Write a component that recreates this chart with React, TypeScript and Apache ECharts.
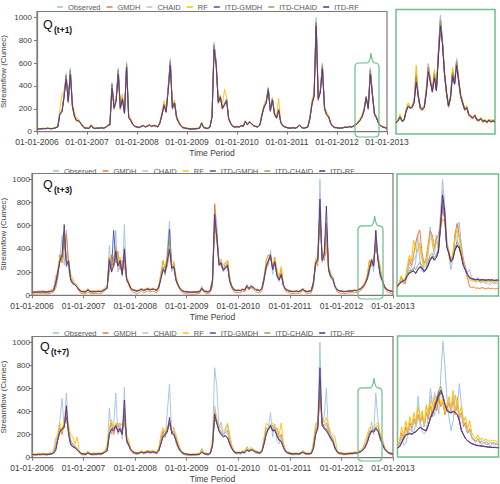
import React, { useEffect, useRef } from 'react';
import * as echarts from 'echarts';

// ---------- labels ----------
const SERIES_NAMES = ['Observed', 'GMDH', 'CHAID', 'RF', 'ITD-GMDH', 'ITD-CHAID', 'ITD-RF'];
const COLORS = ['#9fc2e4', '#ed7d31', '#b7c3d3', '#ffc000', '#4b4fa6', '#a49e55', '#5a2b86'];
const YEAR_TICKS = [2006, 2007, 2008, 2009, 2010, 2011, 2012, 2013];
const Y_TICKS = [0, 200, 400, 600, 800, 1000];
const HORIZONS = ['(t+1)', '(t+3)', '(t+7)'];

// ---------- main series: one row per year, 24 half-month values ----------
const OBS = [
  [22,25,24,28,26,30, 27,25,30,35,45,170, 180,330,515,260,560,220, 130,95,100,70,45,30],
  [30,28,60,30,28,32, 30,35,30,40,55,60, 430,200,280,560,200,300, 160,610,120,100,60,45],
  [40,35,45,55,40,50, 60,45,55,50,40,80, 150,240,170,400,640,200, 260,120,80,50,35,30],
  [28,25,22,25,24,28, 30,80,35,30,28,40, 130,780,620,250,310,200, 240,290,110,70,45,40],
  [45,40,55,45,95,60, 90,70,50,45,40,60, 150,220,260,390,180,290, 150,120,200,80,50,40],
  [35,30,32,35,30,40, 60,35,30,35,40,120, 250,320,1000,280,360,600, 200,150,130,70,45,35],
  [35,30,32,35,40,38, 45,40,50,60,80,100, 130,190,310,200,560,330, 150,120,70,50,40,35],
  [30],
];

// Q(t+1)
const P1_GMDH = [
  [20,23,22,26,24,28, 25,23,28,33,43,160, 175,310,480,250,520,215, 125,90,95,68,43,28],
  [28,26,57,28,26,30, 28,33,28,38,52,58, 400,195,265,520,195,290, 155,570,118,95,58,43],
  [38,33,43,52,38,48, 57,43,52,48,38,76, 145,230,165,375,600,195, 250,118,78,48,33,28],
  [26,23,20,23,22,26, 28,76,33,28,26,38, 125,740,590,245,300,195, 230,275,105,68,43,38],
  [43,38,52,43,90,57, 86,67,48,43,38,57, 145,210,250,370,175,280, 145,115,190,76,48,38],
  [33,28,30,33,28,38, 57,33,28,33,38,115, 240,305,950,270,345,570, 195,145,125,67,43,33],
  [33,28,30,33,38,36, 43,38,48,57,76,95, 125,180,295,195,530,315, 145,115,67,48,38,33],
  [28],
];
const P1_CHAID = [
  [25,27,26,29,28,31, 29,27,31,36,46,165, 185,320,490,265,530,225, 140,100,100,72,48,33],
  [32,30,58,32,30,33, 31,36,32,41,56,63, 410,205,285,530,205,305, 165,580,125,102,62,47],
  [42,37,46,54,42,51, 59,47,56,51,42,82, 155,245,175,390,610,205, 265,125,82,52,37,32],
  [30,27,24,27,26,29, 31,78,37,32,30,42, 135,750,600,255,315,205, 245,285,112,72,47,42],
  [46,42,54,47,92,61, 88,71,52,47,42,62, 155,225,265,375,185,290, 155,122,195,82,52,42],
  [37,32,33,36,32,41, 59,37,32,36,42,122, 255,325,960,285,360,580, 205,152,132,72,47,37],
  [36,32,33,36,41,39, 46,42,51,61,81,102, 132,192,305,205,540,330, 152,122,72,52,42,37],
  [32],
];
const P1_RF = [
  [28,30,28,32,30,33, 30,30,33,38,50,200, 330,360,440,300,480,260, 160,120,110,80,55,38],
  [35,33,62,35,33,36, 34,38,35,45,60,80, 370,260,300,470,250,330, 190,520,150,115,70,50],
  [45,40,50,58,45,55, 62,50,58,55,48,90, 180,270,210,380,560,240, 280,150,95,60,42,35],
  [32,30,28,30,29,32, 35,85,42,35,33,45, 150,690,560,290,320,230, 370,300,130,80,52,45],
  [50,45,58,50,98,65, 92,75,55,50,45,65, 170,240,280,350,210,300, 170,140,290,95,58,45],
  [40,35,36,38,35,45, 62,40,35,38,45,140, 280,340,850,320,370,520, 230,170,145,80,50,40],
  [40,35,36,38,44,42, 48,45,55,66,90,115, 150,210,300,230,480,340, 170,135,80,55,45,40],
  [35],
];
const P1_ITD_GMDH = [
  [23,26,25,28,27,30, 28,26,30,35,44,160, 178,315,490,262,535,222, 132,97,98,71,46,31],
  [31,29,58,31,29,32, 31,35,31,39,54,61, 415,205,275,535,205,292, 162,585,124,100,61,46],
  [41,36,45,54,41,50, 59,46,54,50,41,78, 150,236,172,388,615,204, 256,122,81,51,36,31],
  [29,26,23,26,25,28, 31,77,36,31,29,40, 128,755,600,254,306,203, 238,282,112,71,46,41],
  [45,41,54,46,92,60, 88,70,51,46,41,60, 148,218,256,378,182,285, 152,120,196,81,51,41],
  [36,31,32,35,31,40, 59,36,31,35,41,118, 246,316,950,284,352,580, 203,151,131,71,46,36],
  [35,31,32,35,40,38, 45,41,50,59,79,99, 130,188,305,202,535,326, 152,120,71,51,41,36],
  [31],
];
const P1_ITD_CHAID = [
  [24,26,25,28,27,30, 28,26,30,35,44,158, 180,318,495,265,540,225, 134,98,98,71,47,32],
  [31,29,57,31,29,32, 31,35,31,39,54,62, 410,206,277,540,206,294, 163,590,125,100,61,46],
  [41,36,45,54,41,50, 59,46,54,50,41,78, 152,238,173,390,620,205, 258,123,81,51,36,31],
  [29,26,23,26,25,28, 31,77,36,31,29,40, 129,760,605,255,307,204, 239,284,112,71,46,41],
  [45,41,54,46,92,60, 88,70,51,46,41,60, 149,219,257,380,183,286, 153,121,197,81,51,41],
  [36,31,32,35,31,40, 59,36,31,35,41,118, 247,317,960,285,353,585, 204,152,132,71,46,36],
  [35,31,32,35,40,38, 45,41,50,59,79,99, 131,189,306,203,540,327, 153,121,71,51,41,36],
  [31],
];
const P1_ITD_RF = [
  [24,25,25,27,27,29, 28,26,29,34,42,150, 170,300,460,270,500,230, 135,100,95,72,48,32],
  [31,29,55,32,29,31, 31,34,31,38,52,62, 380,210,270,500,210,280, 165,560,130,100,62,46],
  [41,37,44,52,42,49, 57,47,53,50,42,75, 150,230,175,360,580,210, 250,125,82,52,37,32],
  [29,26,24,25,25,27, 30,72,38,31,29,40, 125,720,580,260,300,205, 235,270,115,72,47,41],
  [44,41,52,47,88,62, 85,70,52,46,41,58, 145,215,250,360,185,275, 155,120,185,82,52,41],
  [36,31,32,35,31,39, 56,37,31,35,40,115, 240,310,920,290,340,550, 205,150,128,72,47,36],
  [35,31,32,35,39,38, 44,41,49,58,77,98, 128,185,295,205,500,320, 155,120,72,52,41,36],
  [31],
];

// Q(t+3)
const P2_GMDH = [
  [10,12,10,14,12,15, 12,10,15,20,30,60, 150,350,280,400,530,300, 150,120,90,70,30,15],
  [15,12,30,18,12,15, 14,18,15,25,40,80, 200,350,250,300,380,220, 300,250,150,90,45,25],
  [20,15,25,35,20,30, 40,28,35,30,22,50, 180,300,220,250,380,250, 280,150,90,40,22,15],
  [12,10,8,10,10,12, 15,50,30,15,12,25, 80,790,500,300,250,220, 280,300,150,60,30,22],
  [25,20,35,28,70,45, 65,50,32,25,20,40, 120,300,350,320,250,330, 200,150,230,90,35,25],
  [18,15,16,18,15,22, 45,25,15,18,22,80, 300,250,700,330,300,420, 250,180,150,80,30,20],
  [18,15,16,18,22,20, 28,22,30,40,60,90, 150,300,250,330,400,350, 250,120,60,35,22,18],
  [15],
];
const P2_CHAID = [
  [25,26,25,28,27,30, 28,26,30,35,45,110, 210,310,330,500,330,290, 150,110,95,70,45,30],
  [30,28,45,30,28,31, 30,34,30,40,52,70, 330,240,300,420,280,320, 200,420,150,105,60,45],
  [40,35,45,52,40,48, 56,45,52,48,40,75, 170,250,210,330,450,260, 260,140,85,52,36,30],
  [28,25,23,25,25,28, 30,65,36,30,28,40, 130,650,520,280,290,220, 250,280,130,75,46,40],
  [44,40,52,45,85,58, 80,66,50,44,40,58, 150,260,300,340,240,300, 190,140,210,85,50,40],
  [35,30,32,35,30,40, 55,36,30,35,40,110, 290,320,750,320,340,560, 240,170,145,75,46,36],
  [35,30,32,35,40,38, 44,40,50,58,78,105, 150,250,300,280,460,330, 200,130,75,50,40,35],
  [30],
];
const P2_RF = [
  [35,33,32,38,35,40, 36,34,40,48,60,120, 230,330,300,450,330,320, 180,140,110,80,55,40],
  [40,38,55,42,38,42, 40,45,42,50,65,90, 330,300,280,400,300,330, 250,300,170,120,70,50],
  [48,42,52,60,50,58, 65,55,62,58,50,85, 200,280,250,330,360,300, 290,170,100,65,45,38],
  [35,32,30,33,32,36, 38,70,45,38,35,50, 150,600,450,320,300,260, 280,300,160,85,55,45],
  [50,45,58,52,85,65, 82,72,58,52,46,65, 170,300,330,330,260,320, 220,160,250,95,58,48],
  [42,38,38,40,38,45, 58,45,38,40,45,130, 320,330,650,350,330,450, 260,190,160,85,52,42],
  [42,38,38,40,45,42, 48,45,55,65,85,120, 180,300,280,320,420,330, 230,140,85,58,45,40],
  [38],
];
const P2_ITD_GMDH = [
  [26,27,26,29,28,30, 28,27,30,34,42,95, 180,290,330,500,280,280, 140,105,92,72,46,33],
  [31,29,48,32,30,31, 31,34,31,39,50,62, 320,220,560,300,260,290, 180,350,140,100,60,45],
  [40,36,44,50,42,48, 55,46,52,49,42,72, 150,230,190,320,570,240, 240,135,85,55,38,32],
  [30,28,26,28,27,29, 31,62,37,32,30,40, 130,620,520,280,270,215, 230,250,125,75,48,40],
  [43,40,50,46,82,58, 76,65,50,45,40,58, 145,240,290,330,230,280, 175,135,175,85,52,42],
  [36,32,33,35,32,39, 52,38,32,35,40,115, 270,320,700,320,360,600, 230,165,140,75,48,38],
  [36,32,33,35,38,37, 42,40,48,56,74,100, 145,230,310,260,470,310, 185,135,75,52,42,36],
  [32],
];
const P2_ITD_CHAID = [
  [27,28,27,30,29,31, 29,28,31,36,44,105, 200,300,340,540,300,290, 140,105,92,72,46,33],
  [32,30,46,33,30,32, 31,35,32,40,51,65, 320,230,320,400,270,300, 190,380,145,102,60,46],
  [41,36,45,51,42,49, 56,46,53,49,42,72, 160,240,200,320,480,250, 250,135,85,54,37,32],
  [30,27,25,27,27,29, 31,62,37,32,30,40, 125,650,510,270,280,215, 240,265,125,75,47,40],
  [43,40,51,46,82,58, 78,65,50,45,40,58, 145,250,295,335,230,290, 180,135,190,85,51,41],
  [36,31,33,35,31,40, 53,37,31,35,40,112, 280,315,760,310,350,620, 225,165,142,75,47,37],
  [36,31,33,35,39,37, 43,40,49,57,76,102, 145,235,305,265,500,315, 190,132,75,51,41,36],
  [31],
];
const P2_ITD_RF = [
  [28,28,27,30,29,31, 29,28,31,35,42,100, 200,300,350,610,250,300, 130,100,90,70,45,32],
  [32,30,45,33,31,32, 32,35,32,40,50,60, 300,200,250,380,250,300, 180,400,140,100,60,45],
  [40,36,44,52,42,50, 56,46,54,50,42,70, 140,220,200,300,400,230, 250,130,85,55,38,32],
  [30,28,27,28,28,30, 31,60,38,32,30,40, 120,700,500,260,280,220, 240,260,120,75,48,40],
  [43,40,50,46,80,58, 78,66,50,45,40,58, 140,250,300,350,220,290, 170,130,180,85,52,42],
  [36,32,33,35,32,40, 52,38,32,35,40,110, 280,300,830,300,350,770, 220,160,140,75,48,38],
  [36,32,33,35,38,37, 42,40,48,56,75,100, 140,220,300,250,560,300, 180,130,75,52,42,36],
  [32],
];

// Q(t+7)
const P3_GMDH = [
  [20,22,20,24,22,26, 24,22,26,30,38,90, 180,260,200,300,420,250, 150,120,100,80,45,25],
  [25,22,45,28,22,25, 24,28,25,35,50,90, 230,300,200,280,300,220, 260,300,180,110,60,35],
  [32,28,36,45,32,40, 48,38,45,40,32,60, 170,230,180,250,280,240, 220,180,110,60,35,25],
  [22,20,18,20,20,22, 25,60,32,25,22,35, 120,420,330,250,230,200, 220,240,160,90,45,32],
  [35,32,42,38,75,52, 70,58,42,36,32,50, 150,260,240,260,280,230, 260,180,200,100,50,35],
  [30,25,26,28,25,32, 48,32,26,28,32,100, 260,250,520,300,280,300, 250,200,170,100,45,32],
  [30,25,26,28,32,30, 36,34,40,50,70,110, 160,230,220,250,260,280, 200,150,90,55,35,28],
  [25],
];
const P3_CHAID = [
  [26,27,26,29,28,30, 28,27,30,34,44,100, 190,250,240,290,380,240, 140,110,95,75,48,32],
  [31,29,45,32,30,32, 31,35,32,40,52,75, 230,270,250,290,260,260, 230,400,160,110,65,46],
  [41,37,44,50,42,48, 55,46,52,49,42,66, 150,210,200,250,320,240, 220,160,100,60,40,33],
  [30,27,25,27,27,29, 31,55,37,32,30,42, 120,450,330,250,230,200, 210,220,140,85,50,42],
  [45,42,50,46,75,58, 72,64,52,46,42,58, 140,240,260,290,260,250, 220,165,180,95,55,43],
  [38,33,34,35,33,39, 50,39,34,36,40,95, 240,280,650,300,270,280, 230,185,150,90,50,39],
  [37,33,33,35,38,37, 42,41,47,55,70,100, 150,210,240,240,270,250, 185,135,85,56,43,37],
  [33],
];
const P3_RF = [
  [35,33,32,38,36,40, 36,35,40,48,60,140, 220,300,230,330,300,280, 200,180,120,180,60,40],
  [40,38,55,42,38,42, 40,45,42,50,65,120, 260,330,240,300,280,300, 280,320,200,150,80,50],
  [48,42,52,60,50,58, 65,55,62,58,50,80, 200,260,220,280,300,270, 260,200,130,80,48,40],
  [36,33,30,34,32,36, 38,80,48,40,36,52, 160,400,330,280,260,230, 250,300,200,110,60,48],
  [52,48,60,55,95,70, 85,75,60,54,48,70, 180,300,280,280,300,260, 250,200,300,130,65,50],
  [45,40,40,42,40,48, 62,48,40,42,48,140, 300,300,500,330,300,350, 280,220,200,180,60,45],
  [44,40,40,42,47,44, 50,48,58,68,90,140, 200,260,250,280,290,300, 220,170,100,65,48,42],
  [40],
];
const P3_ITD_GMDH = [
  [27,28,27,29,28,30, 29,28,30,33,40,70, 160,220,240,280,350,230, 120,95,88,70,50,35],
  [32,30,40,33,31,32, 32,34,32,39,48,65, 210,240,260,270,240,250, 210,380,160,110,70,50],
  [42,38,43,48,42,47, 52,46,50,48,42,62, 125,190,210,240,300,230, 200,150,95,60,42,35],
  [30,28,27,28,28,29, 30,50,36,32,30,40, 110,340,300,240,210,185, 190,175,125,80,52,42],
  [45,42,48,46,68,56, 68,62,52,46,42,56, 125,210,250,270,240,240, 195,155,145,90,55,44],
  [38,34,34,35,33,38, 48,38,34,35,38,85, 210,270,600,300,260,250, 210,175,140,85,52,40],
  [37,33,33,35,37,37, 41,40,46,53,67,92, 135,195,235,230,260,235, 175,125,80,55,43,37],
  [33],
];
const P3_ITD_CHAID = [
  [27,28,27,29,28,30, 29,28,30,33,40,75, 160,230,245,270,400,220, 120,97,88,71,50,35],
  [32,30,40,33,31,32, 32,34,32,39,48,65, 205,245,245,275,230,250, 205,430,155,110,70,50],
  [42,38,43,48,42,47, 52,46,50,48,42,62, 122,185,205,230,320,220, 200,150,95,60,42,35],
  [30,28,27,28,28,29, 30,48,36,32,30,39, 105,360,300,235,205,183, 190,172,122,80,52,42],
  [45,42,48,46,66,56, 68,62,52,46,42,55, 122,205,250,275,235,240, 192,152,142,90,55,44],
  [38,34,34,35,33,38, 47,38,34,35,38,82, 205,260,680,290,255,240, 205,172,140,85,52,40],
  [37,33,33,35,37,37, 40,40,45,52,66,91, 132,192,232,225,255,232, 172,122,80,55,43,37],
  [33],
];
const P3_ITD_RF = [
  [28,28,28,29,29,30, 29,29,30,33,38,60, 150,230,250,260,450,200, 110,95,85,70,50,35],
  [32,30,38,32,31,32, 32,34,32,38,48,60, 200,250,230,280,220,250, 200,500,150,110,70,50],
  [42,38,42,48,42,46, 52,46,50,48,42,60, 120,180,200,220,350,210, 200,150,95,60,42,35],
  [30,28,27,28,28,29, 30,45,36,32,30,38, 100,380,300,230,200,180, 190,170,120,80,52,42],
  [45,42,48,46,65,56, 68,62,52,46,42,55, 120,200,250,280,230,240, 190,150,140,90,55,44],
  [38,34,34,35,33,38, 46,38,34,35,38,80, 200,250,780,280,250,230, 200,170,140,85,52,40],
  [37,33,33,35,37,37, 40,40,45,52,65,90, 130,190,230,220,250,230, 170,120,80,55,43,37],
  [33],
];

// ---------- inset (zoomed 2012 monsoon window) ----------
const OBS_IN = [51,67,91,59,67,115,140,124,131,164,300,180,124,115,131,212,340,260,204,300,212,404,573,452,292,196,131,180,308,244,364,260,180,148,115,131,91,83,75,91,67,64,75,59,64,55,67,59,64,58];

const P1_IN_GMDH = [50,64,88,58,65,112,138,122,128,160,290,178,122,112,128,208,335,255,200,295,208,400,560,445,288,192,128,178,300,240,355,255,178,145,112,128,88,80,72,88,64,62,72,56,62,52,64,56,62,55];
const P1_IN_CHAID = [53,66,90,60,68,114,139,125,130,162,295,182,126,116,130,210,335,258,205,298,212,398,560,450,292,198,133,180,304,244,358,260,182,150,117,130,92,84,76,90,68,65,75,60,65,56,67,60,64,58];
const P1_IN_RF = [60,70,95,65,72,120,150,130,140,170,330,200,135,125,140,225,320,275,220,310,230,390,480,440,310,215,145,190,320,265,345,280,195,160,125,138,100,90,82,95,74,70,80,65,70,62,72,66,70,64];
const P1_IN_ITD_GMDH = [54,64,85,62,67,110,135,125,129,155,270,182,127,117,129,200,315,252,204,282,210,385,540,440,290,198,133,177,292,242,345,257,183,149,117,129,93,84,77,89,68,65,74,60,64,57,66,59,63,59];
const P1_IN_ITD_CHAID = [53,65,87,61,67,112,137,124,130,158,280,181,126,116,130,205,322,254,204,288,211,392,548,445,291,197,132,178,298,243,350,258,182,149,116,130,92,84,76,90,68,65,75,60,64,57,67,60,64,58];
const P1_IN_ITD_RF = [55,62,80,62,68,108,132,125,128,150,250,185,128,118,128,195,300,250,205,270,210,370,520,430,290,200,135,175,280,240,330,255,185,150,118,128,95,85,78,88,70,66,74,62,65,58,66,60,63,60];

const P2_IN_GMDH = [40,55,90,70,60,120,180,150,200,260,300,325,220,160,180,250,320,300,240,280,300,360,420,380,260,220,170,200,300,357,300,240,180,130,90,46,42,45,38,40,36,42,38,35,40,36,38,34,37,35];
const P2_IN_CHAID = [52,62,85,70,75,125,160,140,180,190,230,240,180,140,150,210,300,280,220,270,260,380,520,440,270,220,160,190,280,300,300,220,165,130,100,85,80,78,74,78,72,76,72,70,74,70,72,68,70,68];
const P2_IN_RF = [50,60,100,80,85,150,200,170,275,230,220,260,200,150,170,230,280,290,230,260,260,330,380,360,250,230,180,210,290,325,290,230,170,130,100,80,72,75,68,72,70,75,68,70,74,68,72,66,70,68];
const P2_IN_ITD_GMDH = [48,56,68,72,78,98,112,118,122,112,128,140,138,122,128,148,175,190,178,188,215,330,450,400,245,212,172,182,225,245,235,198,152,130,108,92,86,84,81,83,79,81,80,78,81,79,80,77,79,78];
const P2_IN_ITD_CHAID = [49,57,72,74,79,105,125,125,140,130,150,165,150,125,135,165,200,210,185,205,230,360,470,410,245,212,168,185,240,265,250,205,155,128,105,90,84,82,79,81,77,79,78,76,79,77,78,75,77,76];
const P2_IN_ITD_RF = [50,58,70,75,80,100,115,120,125,110,130,145,140,120,130,150,180,195,175,190,220,350,497,420,240,210,170,180,230,250,240,200,150,128,105,90,85,82,80,82,78,80,79,77,80,78,79,76,78,77];

const P3_IN_GMDH = [55,70,120,90,150,120,170,140,190,160,210,170,200,150,220,190,250,200,270,230,290,250,270,210,240,270,220,290,210,260,190,220,150,170,120,140,100,85,75,90,70,80,68,75,65,72,68,70,64,66];
const P3_IN_CHAID = [50,65,100,80,130,110,160,130,180,150,200,160,220,150,250,230,300,260,320,280,330,300,290,240,250,280,230,300,220,270,200,210,160,150,120,130,100,90,80,90,75,80,70,75,68,72,70,70,66,68];
const P3_IN_RF = [60,80,150,100,180,130,200,150,220,170,250,180,230,160,260,200,280,210,300,240,320,260,290,220,260,300,240,330,230,300,210,250,170,200,140,180,120,100,90,110,85,95,80,90,78,85,80,82,76,80];
const P3_IN_ITD_GMDH = [46,52,72,92,108,115,118,115,122,128,138,148,142,135,132,158,190,215,240,270,300,320,305,265,235,225,220,228,222,212,185,135,112,92,82,74,68,64,60,58,56,55,53,52,50,49,48,48,47,47];
const P3_IN_ITD_CHAID = [47,53,74,94,110,116,117,114,121,126,139,147,141,133,131,162,200,222,250,290,330,350,310,262,230,223,219,226,221,211,182,132,111,91,81,73,67,63,59,57,56,55,53,51,50,49,48,48,47,47];
const P3_IN_ITD_RF = [45,50,70,95,110,113,115,112,120,125,140,146,140,132,130,160,196,220,246,280,310,332,300,260,229,222,218,225,220,210,180,130,110,90,80,72,66,62,58,56,55,54,52,50,49,48,47,47,46,46];

const MAIN = [
  [OBS, P1_GMDH, P1_CHAID, P1_RF, P1_ITD_GMDH, P1_ITD_CHAID, P1_ITD_RF],
  [OBS, P2_GMDH, P2_CHAID, P2_RF, P2_ITD_GMDH, P2_ITD_CHAID, P2_ITD_RF],
  [OBS, P3_GMDH, P3_CHAID, P3_RF, P3_ITD_GMDH, P3_ITD_CHAID, P3_ITD_RF],
];
const INSET = [
  [OBS_IN, P1_IN_GMDH, P1_IN_CHAID, P1_IN_RF, P1_IN_ITD_GMDH, P1_IN_ITD_CHAID, P1_IN_ITD_RF],
  [OBS_IN, P2_IN_GMDH, P2_IN_CHAID, P2_IN_RF, P2_IN_ITD_GMDH, P2_IN_ITD_CHAID, P2_IN_ITD_RF],
  [OBS_IN, P3_IN_GMDH, P3_IN_CHAID, P3_IN_RF, P3_IN_ITD_GMDH, P3_IN_ITD_CHAID, P3_IN_ITD_RF],
];

// ---------- layout ----------
const LAYOUT = [
  { left: 37, top: 11.5, width: 350, height: 120.2, yGap: 29.5, yLabelMargin: 5,
    inset: { left: 396, top: 9.5, width: 99, height: 124.5 },
    legendTop: -2, legendLeft: 52, callout: { x: 355, y: 53, sx: 1, sy: 1 }, q: { x: 43, y: 18 } },
  { left: 32, top: 173.5, width: 361, height: 121.8, yGap: 24.5, yLabelMargin: 2,
    inset: { left: 397, top: 174, width: 101.5, height: 122 },
    legendTop: 162, legendLeft: 48, callout: { x: 358, y: 216, sx: 25 / 24, sy: 83 / 84 }, q: { x: 43, y: 178 } },
  { left: 32, top: 336.5, width: 361, height: 121.2, yGap: 24.5, yLabelMargin: 2,
    inset: { left: 397.5, top: 336, width: 101, height: 121 },
    legendTop: 324, legendLeft: 48, callout: { x: 358, y: 378, sx: 1, sy: 83 / 84 }, q: { x: 40, y: 340 } },
];

const FONT = 'Liberation Sans, Arial, sans-serif';
const AXIS_GRAY = '#7a7a7a';
const TEXT_GRAY = '#404040';
const GREEN = '#6cc08b';

const CALLOUT_D = 'M4 10 L12 10 Q15 10 16 0 Q17 10 20 10 Q24 10 24 14 L24 80 Q24 84 20 84 L4 84 Q0 84 0 80 L0 14 Q0 10 4 10 Z';
echarts.graphic.registerShape('callout', echarts.graphic.extendPath(CALLOUT_D, {}));

const toMain = (rows: number[][]) =>
  rows.flatMap((row, yi) => row.map((v, j) => [YEAR_TICKS[0] + yi + j / 24, v]));
const toInset = (arr: number[]) => arr.map((v, i) => [i, v]);

function buildOption() {
  const grid: any[] = [];
  const xAxis: any[] = [];
  const yAxis: any[] = [];
  const series: any[] = [];
  const legend: any[] = [];
  const graphic: any[] = [];

  LAYOUT.forEach((l, p) => {
    grid.push({
      left: l.left, top: l.top, width: l.width, height: l.height, show: true, borderColor: AXIS_GRAY, borderWidth: 1.2,
      backgroundColor: 'transparent', containLabel: false, outerBoundsMode: 'none',
    });
    xAxis.push({
      type: 'value', gridIndex: p, min: YEAR_TICKS[0], max: YEAR_TICKS[YEAR_TICKS.length - 1], interval: 1,
      axisLine: { show: true, lineStyle: { color: AXIS_GRAY, width: 1.2 } },
      axisTick: { show: true, length: 3, lineStyle: { color: AXIS_GRAY } },
      axisLabel: { fontSize: 8.5, color: TEXT_GRAY, margin: 6, fontFamily: FONT, formatter: (v: number) => `01-01-${v}` },
      splitLine: { show: false },
      name: 'Time Period', nameLocation: 'middle', nameGap: 17, nameMoveOverlap: false,
      nameTextStyle: { fontSize: 8.5, color: TEXT_GRAY, fontFamily: FONT },
    });
    yAxis.push({
      type: 'value', gridIndex: p, min: 0, max: 1050, interval: 200,
      axisLine: { show: true, lineStyle: { color: AXIS_GRAY, width: 1.2 } },
      axisTick: { show: true, length: 3, lineStyle: { color: AXIS_GRAY }, customValues: Y_TICKS },
      axisLabel: { fontSize: 8, color: TEXT_GRAY, margin: l.yLabelMargin, fontFamily: FONT, customValues: Y_TICKS,
        formatter: (v: number) => (Y_TICKS.includes(v) ? String(v) : '') },
      splitLine: { show: false },
      name: 'Streamflow (Cumec)', nameLocation: 'middle', nameGap: l.yGap, nameRotate: 90, nameMoveOverlap: false,
      nameTextStyle: { fontSize: 8, color: TEXT_GRAY, fontFamily: FONT },
    });
    MAIN[p].forEach((rows, s) => {
      series.push({
        type: 'line', name: SERIES_NAMES[s], xAxisIndex: p, yAxisIndex: p, data: toMain(rows),
        symbol: 'none', showSymbol: false, silent: true,
        lineStyle: { width: 0.9, color: COLORS[s] }, itemStyle: { color: COLORS[s] },
      });
    });
    legend.push({
      data: SERIES_NAMES, top: l.legendTop, left: l.legendLeft, icon: 'rect', itemWidth: 6, itemHeight: 1.5,
      itemGap: 6, selectedMode: false, textStyle: { fontSize: 7.5, color: '#595959', fontFamily: FONT },
    });
    graphic.push({
      type: 'callout', x: l.callout.x, y: l.callout.y, scaleX: l.callout.sx, scaleY: l.callout.sy, z: 50,
      style: { fill: 'none', stroke: GREEN, lineWidth: 1.2, strokeNoScale: true },
    });
    graphic.push({
      type: 'text', left: l.q.x, top: l.q.y, z: 50,
      style: { text: 'Q', fontSize: 12.5, fontFamily: FONT, fill: '#111' },
    });
    graphic.push({
      type: 'text', left: l.q.x + 11, top: l.q.y + 7, z: 50,
      style: { text: HORIZONS[p], fontSize: 8.5, fontWeight: 'bold', fontFamily: FONT, fill: '#111' },
    });
  });

  LAYOUT.forEach((l, p) => {
    const gi = 3 + p;
    grid.push({
      left: l.inset.left, top: l.inset.top, width: l.inset.width, height: l.inset.height, show: true, borderColor: GREEN,
      borderWidth: 1.5, backgroundColor: 'transparent', containLabel: false, outerBoundsMode: 'none',
    });
    xAxis.push({ type: 'value', gridIndex: gi, min: 0, max: OBS_IN.length - 1, show: false, splitLine: { show: false } });
    yAxis.push({ type: 'value', gridIndex: gi, min: 0, max: 600, show: false, splitLine: { show: false } });
    INSET[p].forEach((arr, s) => {
      series.push({
        type: 'line', name: SERIES_NAMES[s], xAxisIndex: gi, yAxisIndex: gi, data: toInset(arr),
        symbol: 'none', showSymbol: false, silent: true,
        lineStyle: { width: 1, color: COLORS[s] }, itemStyle: { color: COLORS[s] },
      });
    });
  });

  return {
    animation: false,
    backgroundColor: '#ffffff',
    textStyle: { fontFamily: FONT },
    grid, xAxis, yAxis, series, legend, graphic,
  };
}

export default function App() {
  const ref = useRef<HTMLDivElement>(null);
  useEffect(() => {
    if (!ref.current) return;
    const chart = echarts.init(ref.current, undefined, { renderer: 'svg' });
    chart.setOption(buildOption() as any);
    return () => chart.dispose();
  }, []);
  return (
    <div
      ref={ref}
      style={{ position: 'absolute', left: 0, top: 0, width: 500, height: 484, background: '#fff' }}
    />
  );
}
